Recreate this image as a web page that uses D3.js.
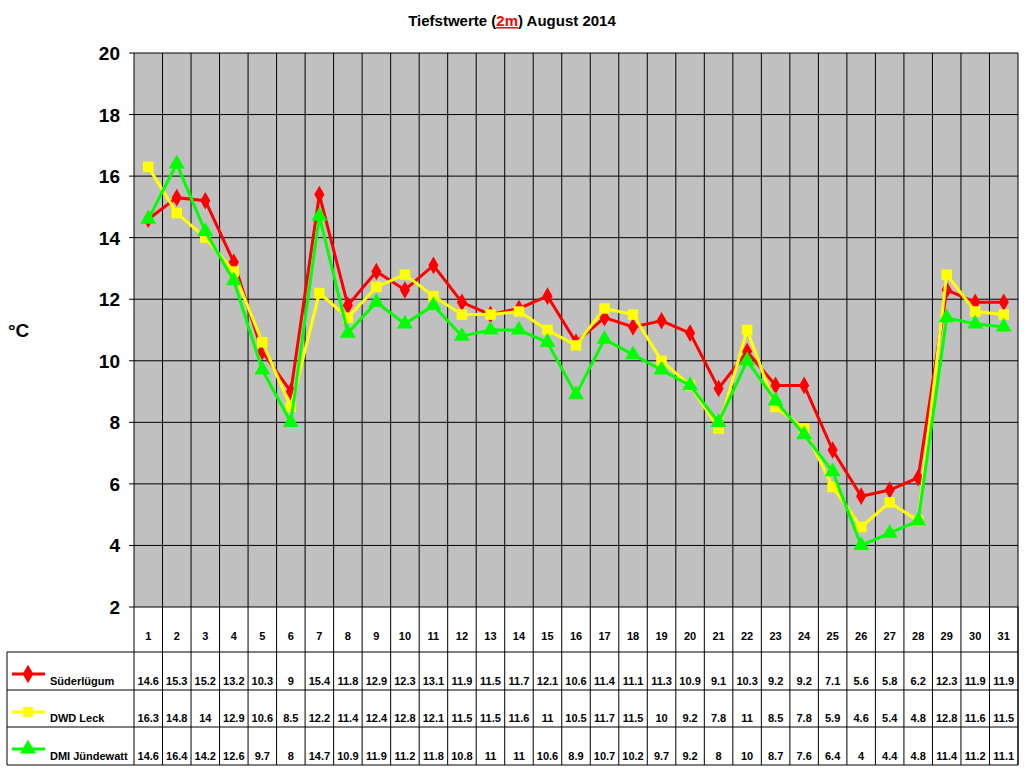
<!DOCTYPE html><html><head><meta charset="utf-8"><script src="https://d3js.org/d3.v7.min.js"></script>
<style>body{margin:0;background:#fff}text{font-family:Arial,"Liberation Sans",sans-serif}</style></head><body>
<svg id="c" width="1024" height="768"></svg>
<script>
const days=d3.range(1,32).map(String);
const suder=[14.6,15.3,15.2,13.2,10.3,9,15.4,11.8,12.9,12.3,13.1,11.9,11.5,11.7,12.1,10.6,11.4,11.1,11.3,10.9,9.1,10.3,9.2,9.2,7.1,5.6,5.8,6.2,12.3,11.9,11.9];
const leck=[16.3,14.8,14,12.9,10.6,8.5,12.2,11.4,12.4,12.8,12.1,11.5,11.5,11.6,11,10.5,11.7,11.5,10,9.2,7.8,11,8.5,7.8,5.9,4.6,5.4,4.8,12.8,11.6,11.5];
const dmi=[14.6,16.4,14.2,12.6,9.7,8,14.7,10.9,11.9,11.2,11.8,10.8,11,11,10.6,8.9,10.7,10.2,9.7,9.2,8,10,8.7,7.6,6.4,4,4.4,4.8,11.4,11.2,11.1];
const yTicks=[2,4,6,8,10,12,14,16,18,20];
const series=[{name:"Süderlügum",v:suder,c:"#ff0000",m:"diamond"},{name:"DWD Leck",v:leck,c:"#ffff00",m:"square"},{name:"DMI Jündewatt",v:dmi,c:"#00ff00",m:"triangle"}];
const svg=d3.select("#c");
const L=134,R=1018,T=53,B=607;
const x=d3.scaleBand().domain(days).range([L,R]);
const y=d3.scaleLinear().domain([2,20]).range([B,T]);
svg.append("rect").attr("x",L).attr("y",T).attr("width",R-L).attr("height",B-T).attr("fill","#c0c0c0");
yTicks.forEach(t=>svg.append("line").attr("x1",L).attr("x2",R).attr("y1",y(t)).attr("y2",y(t)).attr("stroke","#000"));
days.forEach(d=>svg.append("line").attr("x1",x(d)+x.bandwidth()).attr("x2",x(d)+x.bandwidth()).attr("y1",T).attr("y2",765).attr("stroke","#000"));
svg.append("line").attr("x1",L).attr("x2",L).attr("y1",T).attr("y2",765).attr("stroke","#000");
yTicks.forEach(t=>{svg.append("line").attr("x1",L-5).attr("x2",L).attr("y1",y(t)).attr("y2",y(t)).attr("stroke","#000");
svg.append("text").attr("x",L-14).attr("y",y(t)+7).attr("text-anchor","end").attr("font-size",19).attr("font-weight","bold").text(t);});
svg.append("text").attr("x",8).attr("y",337).attr("font-size",19).attr("font-weight","bold").text("°C");
const t=svg.append("text").attr("x",512).attr("y",26).attr("text-anchor","middle").attr("font-size",15).attr("font-weight","bold");
t.append("tspan").text("Tiefstwerte (");t.append("tspan").attr("fill","#ff0000").attr("text-decoration","underline").text("2m");t.append("tspan").text(") August 2014");
// table
const rows=[652,690,727,765];
svg.append("line").attr("x1",7).attr("x2",R).attr("y1",765).attr("y2",765).attr("stroke","#000");
rows.slice(0,3).forEach(r=>svg.append("line").attr("x1",7).attr("x2",R).attr("y1",r).attr("y2",r).attr("stroke","#000"));
svg.append("line").attr("x1",7).attr("x2",7).attr("y1",652).attr("y2",765).attr("stroke","#000");
svg.append("line").attr("x1",R).attr("x2",R).attr("y1",B).attr("y2",765).attr("stroke","#000");
days.forEach(d=>svg.append("text").attr("x",x(d)+x.bandwidth()/2).attr("y",640).attr("text-anchor","middle").attr("font-size",11).attr("font-weight","bold").text(d));
const sym={diamond:d3.symbolDiamond,square:d3.symbolSquare,triangle:d3.symbolTriangle};
series.forEach((s,i)=>{
 const ry=rows[i+1]-5;
 s.v.forEach((v,j)=>svg.append("text").attr("x",x(days[j])+x.bandwidth()/2).attr("y",ry).attr("text-anchor","middle").attr("font-size",11).attr("font-weight","bold").text(v));
 const ly=rows[i]+22;
 svg.append("line").attr("x1",12).attr("x2",45).attr("y1",ly).attr("y2",ly).attr("stroke",s.c).attr("stroke-width",3);
 svg.append("path").attr("d",d3.symbol(sym[s.m],s.m==="triangle"?110:100)()).attr("transform",`translate(28,${ly})`).attr("fill",s.c);
 svg.append("text").attr("x",50).attr("y",ry).attr("font-size",11).attr("font-weight","bold").text(s.name);
});
// lines
const line=d3.line().x((d,j)=>x(days[j])+x.bandwidth()/2).y(d=>y(d));
[1,2,0].forEach(i=>{});
series.forEach(s=>{
 svg.append("path").attr("d",line(s.v)).attr("fill","none").attr("stroke",s.c).attr("stroke-width",3);
 s.v.forEach((v,j)=>svg.append("path").attr("d",d3.symbol(sym[s.m],s.m==="triangle"?110:s.m==="square"?110:90)()).attr("transform",`translate(${x(days[j])+x.bandwidth()/2},${y(v)})`).attr("fill",s.c));
});
</script></body></html>
